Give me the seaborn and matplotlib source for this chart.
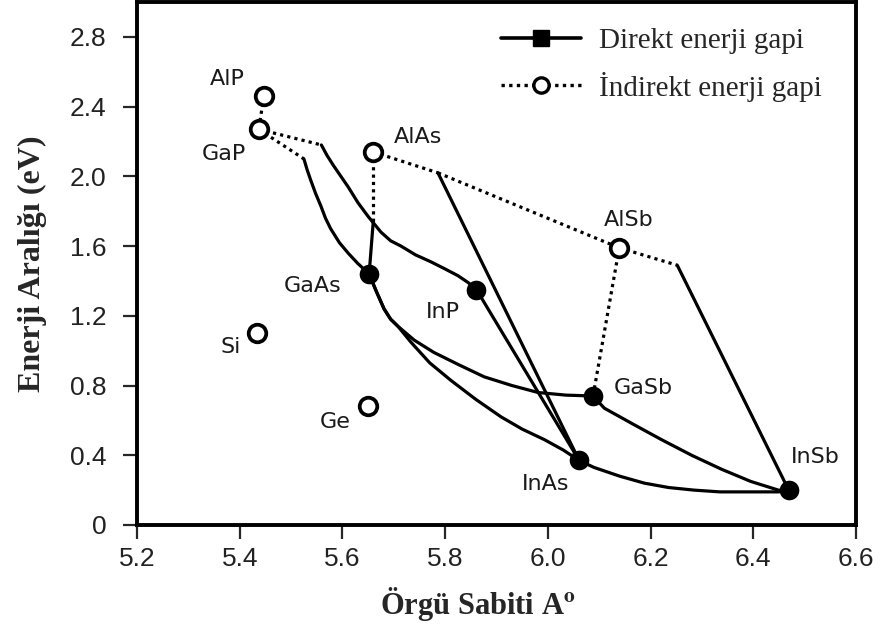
import matplotlib
matplotlib.use("Agg")
import matplotlib.pyplot as plt
import pandas as pd
import seaborn as sns
from matplotlib.lines import Line2D

sns.set_style("ticks")
plt.rcParams["mathtext.fontset"] = "stix"

# Binary semiconductors: lattice constant (Å) and band gap (eV)
compounds = ["AlP", "GaP", "AlAs", "AlSb", "Si", "Ge", "GaAs", "InP", "GaSb", "InAs", "InSb"]
lattice = [5.447, 5.437, 5.660, 6.139, 5.433, 5.650, 5.652, 5.861, 6.088, 6.061, 6.469]
band_gap = [2.46, 2.27, 2.14, 1.59, 1.10, 0.68, 1.44, 1.35, 0.74, 0.37, 0.20]
gap_type = ["indirect"] * 6 + ["direct"] * 5

# Ternary alloy branches (indirect part dotted, direct part solid)
AlGaP_ind_x = [5.447, 5.437]
AlGaP_ind_y = [2.46, 2.27]
GaAsP_ind_x = [5.437, 5.525]
GaAsP_ind_y = [2.27, 2.10]
GaAsP_dir_x = [5.525, 5.531, 5.538, 5.548, 5.558, 5.567, 5.577, 5.594, 5.611, 5.630, 5.652]
GaAsP_dir_y = [2.10, 2.04, 1.98, 1.90, 1.83, 1.76, 1.70, 1.62, 1.56, 1.50, 1.44]
GaInP_ind_x = [5.437, 5.559]
GaInP_ind_y = [2.27, 2.18]
GaInP_dir_x = [5.559, 5.570, 5.583, 5.597, 5.611, 5.630, 5.650, 5.675, 5.694, 5.714,
               5.742, 5.772, 5.799, 5.825, 5.845, 5.861]
GaInP_dir_y = [2.18, 2.12, 2.06, 2.00, 1.94, 1.85, 1.77, 1.68, 1.63, 1.60,
               1.55, 1.51, 1.47, 1.43, 1.39, 1.35]
AlGaAs_ind_x = [5.660, 5.660]
AlGaAs_ind_y = [2.14, 1.74]
AlGaAs_dir_x = [5.660, 5.652]
AlGaAs_dir_y = [1.74, 1.44]
AlInAs_ind_x = [5.660, 5.786]
AlInAs_ind_y = [2.14, 2.02]
AlInAs_dir_x = [5.786, 6.061]
AlInAs_dir_y = [2.02, 0.37]
AlAsSb_ind_x = [5.786, 6.139]
AlAsSb_ind_y = [2.02, 1.59]
AlGaSb_ind_x = [6.139, 6.088]
AlGaSb_ind_y = [1.59, 0.74]
AlInSb_ind_x = [6.139, 6.252]
AlInSb_ind_y = [1.59, 1.49]
AlInSb_dir_x = [6.252, 6.469]
AlInSb_dir_y = [1.49, 0.20]
InAsP_dir_x = [5.861, 6.061]
InAsP_dir_y = [1.35, 0.37]
GaAsSb_dir_x = [5.652, 5.666, 5.681, 5.694, 5.708, 5.740, 5.778, 5.826, 5.876, 5.930, 5.981, 6.035, 6.088]
GaAsSb_dir_y = [1.44, 1.34, 1.24, 1.18, 1.14, 1.06, 0.99, 0.92, 0.85, 0.80, 0.76, 0.745, 0.74]
InGaAs_dir_x = [5.652, 5.666, 5.681, 5.694, 5.708, 5.733, 5.770, 5.811, 5.860, 5.909,
                5.950, 5.993, 6.030, 6.061]
InGaAs_dir_y = [1.44, 1.34, 1.24, 1.18, 1.14, 1.05, 0.93, 0.83, 0.72, 0.62,
                0.55, 0.49, 0.43, 0.37]
InAsSb_dir_x = [6.061, 6.090, 6.140, 6.188, 6.235, 6.285, 6.335, 6.382, 6.420, 6.449, 6.469]
InAsSb_dir_y = [0.37, 0.33, 0.28, 0.24, 0.215, 0.20, 0.19, 0.19, 0.19, 0.19, 0.20]
GaInSb_dir_x = [6.088, 6.110, 6.165, 6.221, 6.280, 6.338, 6.395, 6.449, 6.469]
GaInSb_dir_y = [0.74, 0.67, 0.58, 0.49, 0.40, 0.32, 0.25, 0.20, 0.20]

branches = [
    ("AlGaP_ind", "indirect", AlGaP_ind_x, AlGaP_ind_y),
    ("GaAsP_ind", "indirect", GaAsP_ind_x, GaAsP_ind_y),
    ("GaAsP_dir", "direct", GaAsP_dir_x, GaAsP_dir_y),
    ("GaInP_ind", "indirect", GaInP_ind_x, GaInP_ind_y),
    ("GaInP_dir", "direct", GaInP_dir_x, GaInP_dir_y),
    ("AlGaAs_ind", "indirect", AlGaAs_ind_x, AlGaAs_ind_y),
    ("AlGaAs_dir", "direct", AlGaAs_dir_x, AlGaAs_dir_y),
    ("AlInAs_ind", "indirect", AlInAs_ind_x, AlInAs_ind_y),
    ("AlInAs_dir", "direct", AlInAs_dir_x, AlInAs_dir_y),
    ("AlAsSb_ind", "indirect", AlAsSb_ind_x, AlAsSb_ind_y),
    ("AlGaSb_ind", "indirect", AlGaSb_ind_x, AlGaSb_ind_y),
    ("AlInSb_ind", "indirect", AlInSb_ind_x, AlInSb_ind_y),
    ("AlInSb_dir", "direct", AlInSb_dir_x, AlInSb_dir_y),
    ("InAsP_dir", "direct", InAsP_dir_x, InAsP_dir_y),
    ("GaAsSb_dir", "direct", GaAsSb_dir_x, GaAsSb_dir_y),
    ("InGaAs_dir", "direct", InGaAs_dir_x, InGaAs_dir_y),
    ("InAsSb_dir", "direct", InAsSb_dir_x, InAsSb_dir_y),
    ("GaInSb_dir", "direct", GaInSb_dir_x, GaInSb_dir_y),
]

rows = []
for name, kind, xs, ys in branches:
    for i, (xv, yv) in enumerate(zip(xs, ys)):
        rows.append({"branch": name, "kind": kind, "order": i, "a": xv, "eg": yv})
alloys = pd.DataFrame(rows)

points = pd.DataFrame({"name": compounds, "a": lattice, "eg": band_gap, "kind": gap_type})

# label offsets (points) relative to each compound marker
label_offsets = {
    "AlP": (-26, 12), "GaP": (-25, -18), "AlAs": (32, 11), "AlSb": (7, 20),
    "Si": (-19, -10), "Ge": (-24, -11), "GaAs": (-41, -9), "InP": (-24, -16),
    "GaSb": (36, 6), "InAs": (-24, -17), "InSb": (19, 24),
}

fig = plt.figure(figsize=(8.74, 6.29), dpi=100)
ax = fig.add_axes([137 / 874, 104 / 629, 719 / 874, 523 / 629])

sns.lineplot(data=alloys, x="a", y="eg", units="branch", estimator=None, sort=False,
             style="kind", dashes={"direct": "", "indirect": (1, 1.3)},
             color="black", lw=2.3, legend=False, ax=ax, zorder=2)

direct = points[points["kind"] == "direct"]
indirect = points[points["kind"] == "indirect"]
sns.scatterplot(data=direct, x="a", y="eg", color="black", s=200, edgecolor="black",
                linewidth=0, legend=False, ax=ax, zorder=3)
sns.scatterplot(data=indirect, x="a", y="eg", facecolor="white", edgecolor="black",
                s=160, linewidth=2.7, legend=False, ax=ax, zorder=3)

for _, r in points.iterrows():
    ax.annotate(r["name"], (r["a"], r["eg"]), xytext=label_offsets[r["name"]],
                textcoords="offset points", ha="center", va="center",
                fontsize=16, family="DejaVu Sans", color="#1a1a1a")

ax.set_xlim(5.2, 6.6)
ax.set_ylim(0, 3.0)
xt = [5.2, 5.4, 5.6, 5.8, 6.0, 6.2, 6.4, 6.6]
yt = [0, 0.4, 0.8, 1.2, 1.6, 2.0, 2.4, 2.8]
ax.set_xticks(xt)
ax.set_xticklabels([f"{v:.1f}" for v in xt])
ax.set_yticks(yt)
ax.set_yticklabels(["0"] + [f"{v:.1f}" for v in yt[1:]])
ax.tick_params(axis="both", direction="out", length=10, width=1.6, labelsize=19,
               labelcolor="#222222", pad=6)
ax.tick_params(axis="y", pad=12)
for lab in ax.get_xticklabels() + ax.get_yticklabels():
    lab.set_family("Liberation Sans")

for s in ax.spines.values():
    s.set_linewidth(2.8)
    s.set_color("black")

ax.set_xlabel("Örgü Sabiti A$^{\\mathbf{o}}$", family="Liberation Serif",
              fontweight="bold", fontsize=22)
ax.set_ylabel("Enerji Aralığı (eV)", family="Liberation Serif",
              fontweight="bold", fontsize=23)
ax.xaxis.set_label_coords(0.474, -0.115)
ax.yaxis.set_label_coords(-0.125, 0.50)

handles = [
    Line2D([], [], color="black", lw=2.6, marker="s", markersize=11,
           markerfacecolor="black", markeredgecolor="black"),
    Line2D([], [], color="black", lw=2.4, linestyle=(0, (1, 1.3)), marker="o",
           markersize=11, markerfacecolor="white", markeredgecolor="black",
           markeredgewidth=2.4),
]
ax.legend(handles, ["Direkt enerji gapi", "İndirekt enerji gapi"],
          loc="upper left", bbox_to_anchor=(0.478, 0.99), frameon=False,
          prop={"family": "Liberation Serif", "size": 21},
          handlelength=2.74, handletextpad=0.62, labelspacing=0.6, borderpad=0.2)

fig.savefig("out.png", dpi=100)
